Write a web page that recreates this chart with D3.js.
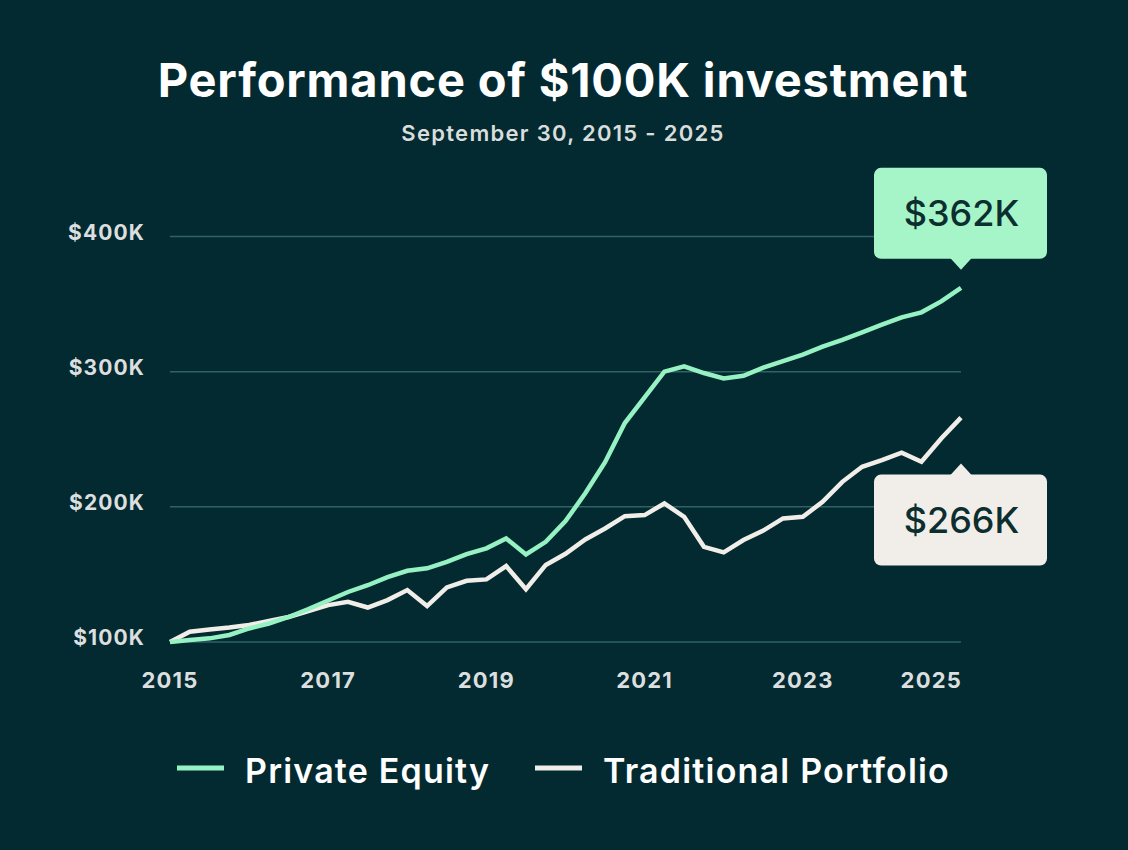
<!DOCTYPE html>
<html>
<head>
<meta charset="utf-8">
<script src="https://cdn.jsdelivr.net/npm/d3@7"></script>
<style>
  html, body { margin: 0; padding: 0; background: #032a30; }
  svg { display: block; font-family: Inter, "Noto Sans", sans-serif; }
</style>
</head>
<body>
<div id="chart"></div>
<script>
// quarterly values, Sep 30 2015 -> Sep 30 2025 ($K)
const privateEquity = [100, 101.5, 102.7, 105.2, 110, 113.7, 118.5, 124.4, 130.7, 137,
  142, 148, 152.7, 154.5, 159.3, 165, 169.3, 176.6, 164.8, 174.1,
  189.4, 210, 233, 262, 281, 300, 304, 299, 295, 297,
  303, 307.8, 312.6, 318.5, 323.6, 329.1, 334.8, 340.2, 343.9, 352, 362]
const traditional = [100, 107.6, 109.2, 110.7, 112.6, 115.5, 118.5, 122.9, 127.3, 129.8,
  125.5, 131, 138.4, 126.6, 140.4, 145.3, 146.3, 156.2, 139, 157,
  165.3, 175.9, 184, 193.1, 193.9, 202.5, 192.6, 170.4, 166.3, 175.4,
  182.4, 191.4, 192.6, 203.7, 218.5, 229.6, 234.5, 240, 233.3, 250.6, 266]
const yearTicks = [2015, 2017, 2019, 2021, 2023, 2025]
const valueTicks = [100, 200, 300, 400]
const seriesNames = ['Private Equity', 'Traditional Portfolio']

const width = 1128
const height = 850
const bg = '#032a30'
const green = '#96f2c2'
const cream = '#f1eee9'

const svg = d3.select('#chart')
  .append('svg')
  .attr('width', width)
  .attr('height', height)

svg.append('rect').attr('width', width).attr('height', height).attr('fill', bg)

// title
svg.append('text')
  .attr('x', 563).attr('y', 97)
  .attr('text-anchor', 'middle')
  .attr('fill', '#ffffff')
  .attr('font-size', 47).attr('font-weight', 700)
  .attr('letter-spacing', 0.8)
  .text('Performance of $100K investment')

svg.append('text')
  .attr('x', 563).attr('y', 141)
  .attr('text-anchor', 'middle')
  .attr('fill', '#d9dddc')
  .attr('font-size', 22).attr('font-weight', 600)
  .attr('letter-spacing', 1.3)
  .text('September 30, 2015 - 2025')

// scales
const x = d3.scaleLinear().domain([2015, 2025]).range([170, 961])
const y = d3.scaleLinear().domain([100, 400]).range([642, 236.5])

const dateOf = i => 2015 + i * 0.25

// grid
svg.append('g')
  .selectAll('line')
  .data(valueTicks)
  .join('line')
  .attr('x1', 170).attr('x2', 961)
  .attr('y1', d => y(d)).attr('y2', d => y(d))
  .attr('stroke', '#2e6365')
  .attr('stroke-width', 1.5)

// y labels
svg.append('g')
  .selectAll('text')
  .data(valueTicks)
  .join('text')
  .attr('x', 145)
  .attr('y', d => y(d) - 4)
  .attr('dy', '0.35em')
  .attr('text-anchor', 'end')
  .attr('fill', '#dcdfdf')
  .attr('font-size', 21).attr('font-weight', 700)
  .attr('letter-spacing', 1.1)
  .text(d => `$${d}K`)

// x labels
svg.append('g')
  .selectAll('text')
  .data(yearTicks)
  .join('text')
  .attr('x', (d, i) => i === yearTicks.length - 1 ? x(d) + 1 : x(d))
  .attr('y', 680)
  .attr('dy', '0.35em')
  .attr('text-anchor', (d, i) => i === yearTicks.length - 1 ? 'end' : 'middle')
  .attr('fill', '#dcdfdf')
  .attr('font-size', 22).attr('font-weight', 700)
  .attr('letter-spacing', 1.2)
  .text(d => d)

// lines
const line = d3.line()
  .x((d, i) => x(dateOf(i)))
  .y(d => y(d))

svg.append('path')
  .datum(traditional)
  .attr('d', line)
  .attr('fill', 'none')
  .attr('stroke', cream)
  .attr('stroke-width', 4.5)

svg.append('path')
  .datum(privateEquity)
  .attr('d', line)
  .attr('fill', 'none')
  .attr('stroke', green)
  .attr('stroke-width', 4.5)

// callouts
function callout({ value, color, above } = {}) {
  const px = x(2025)
  const py = y(value)
  const boxW = 173
  const boxH = 91
  const left = 874
  const tipY = above ? py - 18 : py + 46
  const baseY = above ? tipY - 11 : tipY + 11
  const top = above ? baseY - boxH : baseY
  const g = svg.append('g')
  g.append('rect')
    .attr('x', left).attr('y', top)
    .attr('width', boxW).attr('height', boxH)
    .attr('rx', 7)
    .attr('fill', color)
  g.append('path')
    .attr('d', `M${px - 11},${baseY + (above ? -1 : 1)} L${px},${tipY} L${px + 11},${baseY + (above ? -1 : 1)} Z`)
    .attr('fill', color)
  g.append('text')
    .attr('x', left + boxW / 2 + 1)
    .attr('y', top + boxH / 2)
    .attr('dy', '0.36em')
    .attr('text-anchor', 'middle')
    .attr('fill', '#0c2e2f')
    .attr('font-size', 36).attr('font-weight', 500)
    .text(`$${value}K`)
}
callout({ value: privateEquity[privateEquity.length - 1], color: '#a5f5c8', above: true })
callout({ value: traditional[traditional.length - 1], color: cream, above: false })

// legend
const legend = [
  { name: seriesNames[0], color: green, x: 177 },
  { name: seriesNames[1], color: cream, x: 535 },
]
const lg = svg.append('g')
legend.forEach(item => {
  lg.append('line')
    .attr('x1', item.x).attr('x2', item.x + 47)
    .attr('y1', 768).attr('y2', 768)
    .attr('stroke', item.color)
    .attr('stroke-width', 5)
  lg.append('text')
    .attr('x', item.x + 68)
    .attr('y', 771)
    .attr('dy', '0.35em')
    .attr('fill', '#ffffff')
    .attr('font-size', 34).attr('font-weight', 600)
    .attr('letter-spacing', 1.2)
    .text(item.name)
})
</script>
</body>
</html>
